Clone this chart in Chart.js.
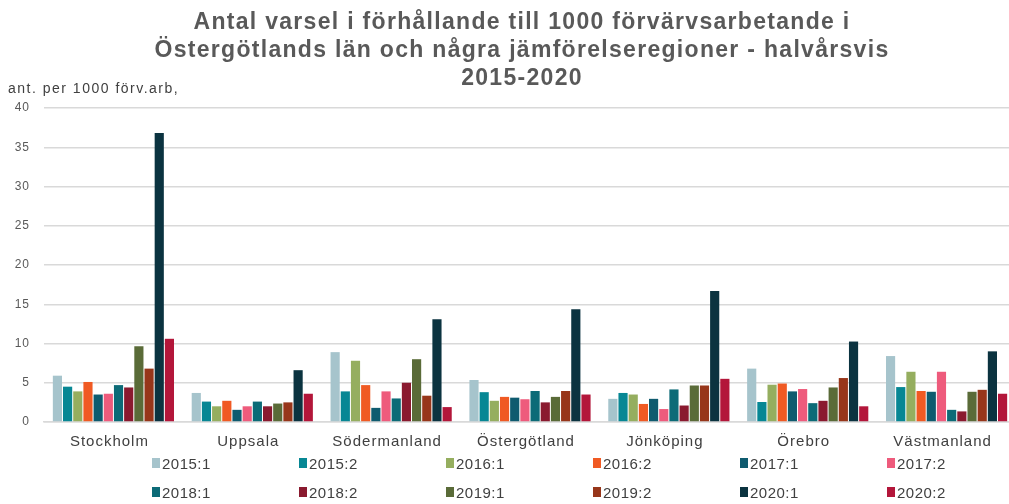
<!DOCTYPE html>
<html>
<head>
<meta charset="utf-8">
<script src="https://cdn.jsdelivr.net/npm/chart.js@4.4.1/dist/chart.umd.min.js"></script>
<style>
  html, body { margin: 0; padding: 0; background: #fff; overflow: hidden; }
  #wrap { position: relative; width: 1009px; height: 504px; overflow: hidden; font-family: "Liberation Sans", Arial, sans-serif; }
  #cv { position: absolute; left: 0; top: 0; }
  #title { position: absolute; left: 0; width: 1044px; top: 7px; text-align: center; font-weight: bold; font-size: 23px; letter-spacing: 1.3px; line-height: 28px; color: #595959; }
  #ytitle { position: absolute; left: 8px; top: 80px; font-size: 14px; letter-spacing: 1.5px; color: #404040; }
  #legend { position: absolute; left: 152px; top: 454px; display: grid; grid-template-columns: repeat(6, 147px); row-gap: 11px; }
  .li { display: flex; align-items: center; font-size: 15px; letter-spacing: 0.5px; color: #404040; height: 18px; }
  .sw { width: 8px; height: 10px; margin-right: 2px; }
</style>
</head>
<body>
<div id="wrap">
  <div id="cvwrap" style="position:absolute;left:0;top:0;width:1017px;height:504px;"><canvas id="cv"></canvas></div>
  <div id="title">Antal varsel i förhållande till 1000 förvärvsarbetande i<br>Östergötlands län och några jämförelseregioner - halvårsvis<br>2015-2020</div>
  <div id="ytitle">ant. per 1000 förv.arb,</div>
  <div id="legend"></div>
</div>
<script>
const categories = ["Stockholm", "Uppsala", "Södermanland", "Östergötland", "Jönköping", "Örebro", "Västmanland"];
const seriesNames = ["2015:1", "2015:2", "2016:1", "2016:2", "2017:1", "2017:2", "2018:1", "2018:2", "2019:1", "2019:2", "2020:1", "2020:2"];
const seriesColors = ["#A6C4CC", "#078794", "#95AE5F", "#F05A23", "#0F5B6F", "#EE5B7C", "#0C6B77", "#8A1A2F", "#5A6B38", "#97361A", "#0B3340", "#B3163A"];
// values per series, one per category (Stockholm..Västmanland)
const s2015_1 = [5.9, 3.7, 8.9, 5.35, 2.95, 6.8, 8.4];
const s2015_2 = [4.5, 2.6, 3.9, 3.8, 3.7, 2.55, 4.45];
const s2016_1 = [3.9, 2.0, 7.8, 2.7, 3.5, 4.75, 6.4];
const s2016_2 = [5.1, 2.7, 4.7, 3.2, 2.3, 4.9, 3.95];
const s2017_1 = [3.5, 1.55, 1.8, 3.1, 2.95, 3.9, 3.85];
const s2017_2 = [3.6, 2.0, 3.9, 2.9, 1.65, 4.2, 6.4];
const s2018_1 = [4.7, 2.6, 3.0, 3.95, 4.15, 2.4, 1.55];
const s2018_2 = [4.4, 2.0, 5.0, 2.5, 2.1, 2.7, 1.35];
const s2019_1 = [9.65, 2.35, 8.0, 3.2, 4.65, 4.4, 3.85];
const s2019_2 = [6.8, 2.5, 3.35, 3.95, 4.65, 5.6, 4.1];
const s2020_1 = [36.8, 6.6, 13.1, 14.35, 16.7, 10.25, 9.0];
const s2020_2 = [10.6, 3.6, 1.9, 3.5, 5.5, 2.0, 3.6];
const seriesValues = [s2015_1, s2015_2, s2016_1, s2016_2, s2017_1, s2017_2, s2018_1, s2018_2, s2019_1, s2019_2, s2020_1, s2020_2];
const yTicks = [0, 5, 10, 15, 20, 25, 30, 35, 40];

const datasets = seriesNames.map((n, i) => ({
  label: n,
  data: seriesValues[i],
  backgroundColor: seriesColors[i],
  borderWidth: 0,
  categoryPercentage: 0.88,
  barPercentage: 0.9
}));

const spacing = {
  id: 'spacing',
  beforeDraw(c) { c.ctx.letterSpacing = '1px'; }
};

const chart = new Chart(document.getElementById('cv'), {
  type: 'bar',
  data: { labels: categories, datasets },
  plugins: [spacing],
  options: {
    responsive: true,
    maintainAspectRatio: false,
    animation: false,
    layout: { padding: { top: 108, left: 0, right: 1, bottom: 42 } },
    plugins: { legend: { display: false }, tooltip: { enabled: false } },
    scales: {
      x: {
        grid: { display: false, drawTicks: false },
        border: { display: true, color: '#D9D9D9', width: 1.5 },
        ticks: { color: '#404040', font: { family: '"Liberation Sans", Arial, sans-serif', size: 15 }, padding: 11, labelOffset: -4 }
      },
      y: {
        min: 0, max: 40,
        afterFit: s => { s.width = 44; },
        afterBuildTicks: s => { s.ticks = yTicks.map(v => ({ value: v })); },
        grid: { color: '#D9D9D9', lineWidth: 1.5, drawTicks: false },
        border: { display: false },
        ticks: { color: '#595959', font: { family: '"Liberation Sans", Arial, sans-serif', size: 12 }, padding: 14 }
      }
    }
  }
});

const lg = document.getElementById('legend');
chart.data.datasets.forEach(ds => {
  const d = document.createElement('div');
  d.className = 'li';
  d.innerHTML = '<span class="sw" style="background:' + ds.backgroundColor + '"></span>' + ds.label;
  lg.appendChild(d);
});
</script>
</body>
</html>
